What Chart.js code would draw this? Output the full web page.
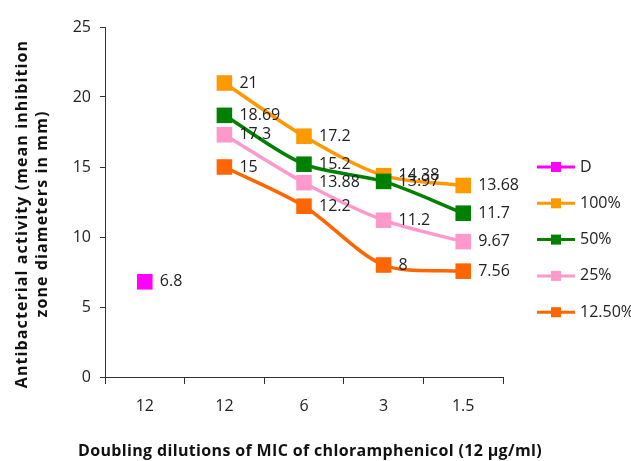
<!DOCTYPE html>
<html>
<head>
<meta charset="utf-8">
<script src="https://cdn.jsdelivr.net/npm/chart.js@4"></script>
<style>
  html, body { margin: 0; padding: 0; background: #fff; }
  #wrap { width: 631px; height: 461px; }
</style>
</head>
<body>
<div id="wrap"><canvas id="chart" width="631" height="461"></canvas></div>
<script>
// --- data ---
const categories = ['12', '12', '6', '3', '1.5'];
const seriesNames = ['D', '100%', '50%', '25%', '12.50%'];
const valuesD = [6.8, null, null, null, null];
const values100 = [null, 21, 17.2, 14.38, 13.68];
const values50 = [null, 18.69, 15.2, 13.97, 11.7];
const values25 = [null, 17.3, 13.88, 11.2, 9.67];
const values12 = [null, 15, 12.2, 8, 7.56];
const seriesColors = ['#ff00ff', '#ff9900', '#008000', '#ff99cc', '#ff6600'];

const xTitle = 'Doubling dilutions of MIC of chloramphenicol (12 \u00b5g/ml)';
const yTitle = ['Antibacterial activity (mean inhibition', 'zone diameters in mm)'];

const FONT = "'Open Sans', 'Noto Sans', sans-serif";
const TEXT = '#222';

const allValues = [valuesD, values100, values50, values25, values12];

const datasets = allValues.map((vals, i) => ({
    label: seriesNames[i],
    data: vals,
    borderColor: seriesColors[i],
    backgroundColor: seriesColors[i],
    borderWidth: 3.5,
    pointStyle: 'rect',
    pointRadius: 11,
    pointHoverRadius: 11,
    pointBorderWidth: 0,
    tension: 0.3,
    spanGaps: false,
    order: 10 - i // later series sit on top
}));

// value labels to the right of each point
const valueLabels = {
    id: 'valueLabels',
    afterDatasetsDraw(chart) {
        const ctx = chart.ctx;
        ctx.save();
        ctx.font = `16px ${FONT}`;
        ctx.fillStyle = TEXT;
        ctx.textAlign = 'left';
        ctx.textBaseline = 'middle';
        chart.data.datasets.forEach((ds, i) => {
            const meta = chart.getDatasetMeta(i);
            meta.data.forEach((pt, j) => {
                const v = ds.data[j];
                if (v == null) return;
                ctx.fillText(String(v), pt.x + 15, pt.y);
            });
        });
        ctx.restore();
    }
};

// legend on the right: short line with a square marker
const sideLegend = {
    id: 'sideLegend',
    afterDraw(chart) {
        const ctx = chart.ctx;
        const x0 = 537, x1 = 575, top = 167, step = 36.3;
        ctx.save();
        ctx.font = `16px ${FONT}`;
        ctx.textBaseline = 'middle';
        chart.data.datasets.forEach((ds, i) => {
            const y = top + i * step;
            ctx.strokeStyle = ds.borderColor;
            ctx.lineWidth = 3;
            ctx.beginPath();
            ctx.moveTo(x0, y);
            ctx.lineTo(x1, y);
            ctx.stroke();
            ctx.fillStyle = ds.backgroundColor;
            ctx.fillRect((x0 + x1) / 2 - 5, y - 5, 10, 10);
            ctx.fillStyle = TEXT;
            ctx.fillText(ds.label, x1 + 5, y);
        });
        ctx.restore();
    }
};

// axis titles, drawn here so they can get the loose letter spacing of the original
const axisTitles = {
    id: 'axisTitles',
    afterDraw(chart) {
        const ctx = chart.ctx;
        ctx.save();
        ctx.fillStyle = '#111';
        ctx.textAlign = 'center';
        ctx.textBaseline = 'middle';
        ctx.font = `bold 16px ${FONT}`;
        ctx.letterSpacing = '0.35px';
        ctx.fillText(xTitle, 310, 451);

        ctx.letterSpacing = '1.1px';
        ctx.translate(0, 214);
        ctx.rotate(-Math.PI / 2);
        yTitle.forEach((line, k) => ctx.fillText(line, 0, 22 + k * 20));
        ctx.restore();
    }
};

new Chart(document.getElementById('chart'), {
    type: 'line',
    data: { labels: categories, datasets },
    options: {
        responsive: false,
        animation: false,
        devicePixelRatio: 1,
        layout: { padding: { top: 27, right: 128, bottom: 0, left: 0 } },
        plugins: {
            legend: { display: false },
            tooltip: { enabled: false }
        },
        scales: {
            x: {
                offset: true,
                afterFit: s => { s.height = 84; },
                grid: { offset: true, drawOnChartArea: false, tickLength: 7, color: '#333' },
                border: { color: '#333', width: 1 },
                ticks: { font: { family: FONT, size: 16 }, color: TEXT, padding: 13 }
            },
            y: {
                min: 0, max: 25,
                afterFit: s => { s.width = 105; },
                grid: { drawOnChartArea: false, tickLength: 5, color: '#333' },
                border: { color: '#333', width: 1 },
                ticks: { stepSize: 5, font: { family: FONT, size: 16 }, color: TEXT, padding: 9 }
            }
        }
    },
    plugins: [valueLabels, sideLegend, axisTitles]
});
</script>
</body>
</html>
